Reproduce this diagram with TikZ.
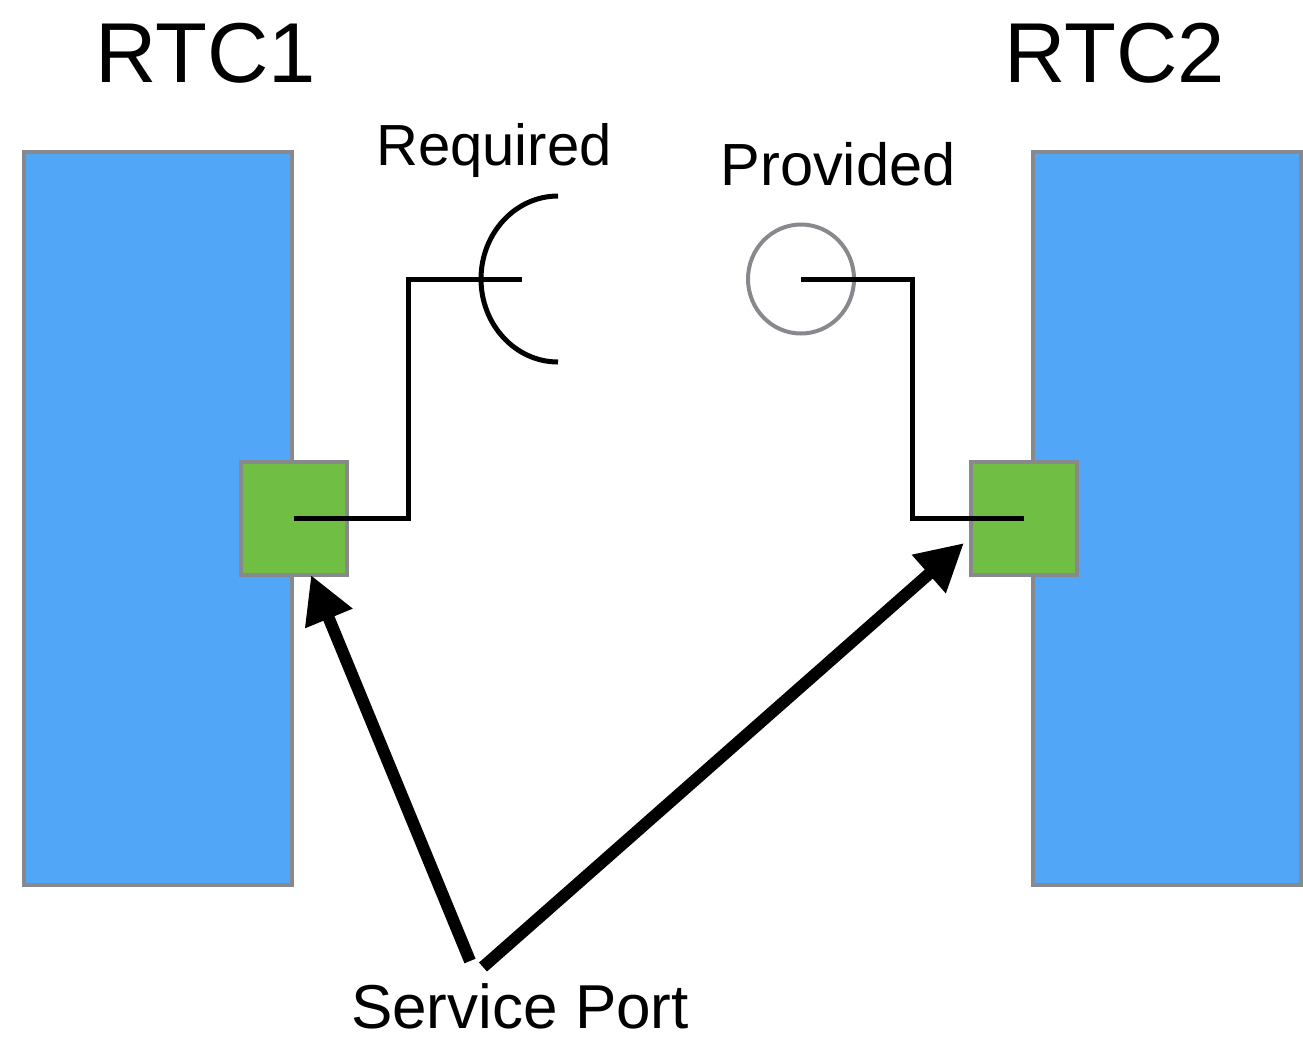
\documentclass[tikz,border=0pt]{standalone}
\usepackage{fontspec}
\setmainfont{Liberation Sans}
\usetikzlibrary{arrows.meta,shapes.geometric}
\definecolor{rtcblue}{RGB}{82,166,248}
\definecolor{portgreen}{RGB}{112,190,68}
\definecolor{edgegray}{RGB}{135,137,140}
\tikzset{
  rtcbox/.style={draw=edgegray, line width=4pt, fill=rtcblue, inner sep=0pt,
    minimum width=268pt, minimum height=733pt},
  portbox/.style={draw=edgegray, line width=4pt, fill=portgreen, inner sep=0pt,
    minimum width=106pt, minimum height=113pt},
  wire/.style={line width=5pt, line cap=butt, line join=miter},
  pointer/.style={line width=12pt, -{Triangle[length=47pt,width=48pt]}},
  bigtitle/.style={anchor=base, inner sep=0pt, font=\fontsize{85}{85}\selectfont},
  label/.style={anchor=base, inner sep=0pt, font=\fontsize{58}{58}\selectfont},
}
\begin{document}
\begin{tikzpicture}[x=1pt, y=-1pt]
  \useasboundingbox (0,0) rectangle (1303,1037);

  % components and their service ports
  \node[rtcbox] (rtc1) at (158,518) {};
  \node[rtcbox] (rtc2) at (1167,518) {};
  \node[portbox] (sp1) at (293.5,518) {};
  \node[portbox] (sp2) at (1024,518) {};

  % titles and labels
  \node[bigtitle] (t1) at (206,82) {RTC1};
  \node[bigtitle] (t2) at (1115,82) {RTC2};
  \node[label] (req) at (494,165) {Required};
  \node[label, font=\fontsize{59.5}{60}\selectfont] (prov) at (838,185) {Provided};
  \node[label, font=\fontsize{62}{62}\selectfont, text depth=0pt] (svc) at (520,1028) {Service Port};

  % required interface: socket
  \coordinate (reqend) at (522,279);
  \coordinate (socket) at (558,196);
  \draw[wire] (sp1.center) -- (408,518) |- (reqend);
  \draw[line width=5pt] (socket) arc[start angle=-90, end angle=-270, x radius=77, y radius=83];

  % provided interface: lollipop
  \node[draw=edgegray, line width=4pt, ellipse, minimum width=106pt, minimum height=109pt,
    inner sep=0pt] (ball) at (801,279) {};
  \draw[wire] (ball.center) -- (912,279) |- (sp2.center);

  % pointers to the service ports
  \coordinate (tail1) at (470,961);
  \coordinate (tail2) at (483,967);
  \coordinate (tip1) at (311,575);
  \coordinate (tip2) at (964,543);
  \draw[pointer] (tail1) -- (tip1);
  \draw[pointer] (tail2) -- (tip2);
\end{tikzpicture}
\end{document}
